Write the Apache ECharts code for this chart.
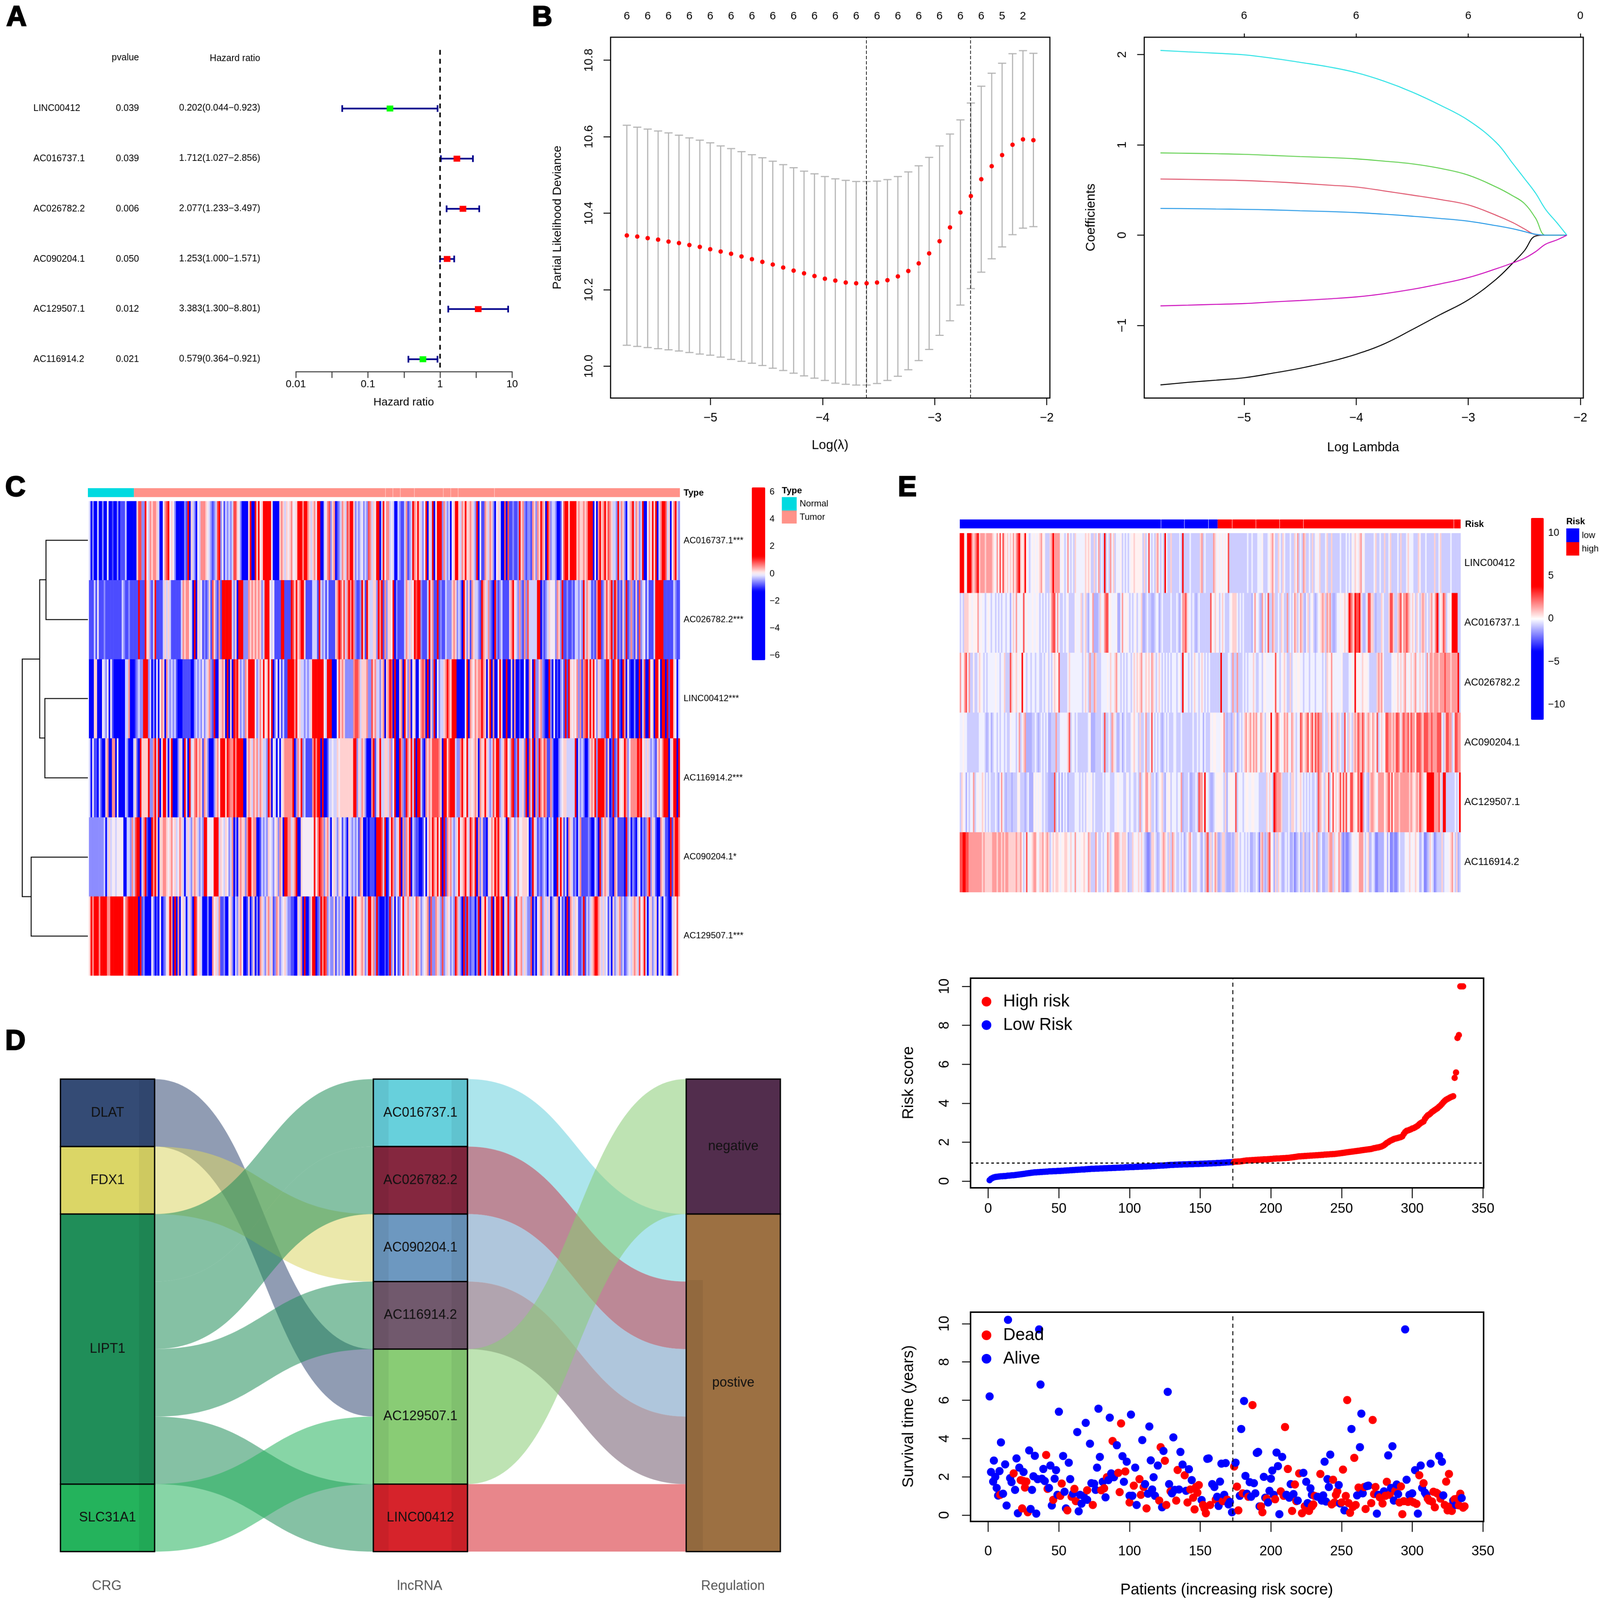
<!DOCTYPE html>
<html><head><meta charset="utf-8">
<style>html,body{margin:0;padding:0;background:#fff;overflow:hidden}#c{width:4316px;height:4297px;transform-origin:0 0}</style>
<script src="https://cdn.jsdelivr.net/npm/echarts@6/dist/echarts.min.js"></script>
</head><body><div id="c"></div>
<script>
// ---------- A: forest plot ----------
const forestGenes = ['LINC00412','AC016737.1','AC026782.2','AC090204.1','AC129507.1','AC116914.2'];
const forestP = ['0.039','0.039','0.006','0.050','0.012','0.021'];
const forestHR = [0.202,1.712,2.077,1.253,3.383,0.579];
const forestLow = [0.044,1.027,1.233,1.000,1.300,0.364];
const forestHigh = [0.923,2.856,3.497,1.571,8.801,0.921];
const forestText = ['0.202(0.044\u22120.923)','1.712(1.027\u22122.856)','2.077(1.233\u22123.497)','1.253(1.000\u22121.571)','3.383(1.300\u22128.801)','0.579(0.364\u22120.921)'];
// ---------- B: LASSO CV ----------
const cvLambda = [-5.746,-5.653,-5.560,-5.467,-5.374,-5.281,-5.188,-5.095,-5.002,-4.909,-4.816,-4.723,-4.630,-4.537,-4.444,-4.351,-4.258,-4.165,-4.072,-3.979,-3.886,-3.793,-3.700,-3.607,-3.514,-3.421,-3.328,-3.235,-3.142,-3.049,-2.956,-2.863,-2.770,-2.677,-2.584,-2.491,-2.398,-2.305,-2.212,-2.119];
const cvMean = [10.342,10.339,10.335,10.331,10.326,10.322,10.317,10.312,10.306,10.300,10.294,10.287,10.280,10.273,10.266,10.258,10.250,10.243,10.236,10.229,10.224,10.219,10.217,10.217,10.219,10.225,10.235,10.249,10.269,10.295,10.327,10.363,10.402,10.445,10.489,10.523,10.552,10.579,10.593,10.591];
const cvUpper = [10.630,10.625,10.620,10.615,10.610,10.604,10.597,10.591,10.584,10.576,10.569,10.561,10.553,10.545,10.536,10.527,10.519,10.510,10.503,10.496,10.490,10.486,10.483,10.483,10.484,10.488,10.496,10.508,10.524,10.546,10.576,10.607,10.644,10.688,10.732,10.766,10.792,10.817,10.825,10.818];
const cvLower = [10.055,10.052,10.049,10.046,10.043,10.040,10.036,10.032,10.029,10.024,10.018,10.013,10.008,10.002,9.995,9.989,9.982,9.975,9.969,9.963,9.956,9.953,9.951,9.951,9.955,9.963,9.974,9.991,10.015,10.044,10.081,10.119,10.160,10.203,10.246,10.281,10.312,10.344,10.361,10.365];
const cvCounts = [6,6,6,6,6,6,6,6,6,6,6,6,6,6,6,6,6,6,5,2];
const cvLines = [-3.609,-2.68];
const coefLambda = [-5.746,-5.5,-5.25,-5,-4.75,-4.5,-4.25,-4,-3.75,-3.5,-3.25,-3,-2.75,-2.6,-2.5,-2.4,-2.31,-2.21,-2.12];
const coef1 = [-1.658,-1.63,-1.606,-1.579,-1.53,-1.474,-1.405,-1.319,-1.204,-1.046,-.88,-.717,-.487,-.306,-.174,-.01,0,0,0];
const coef2 = [.622,.618,.612,.605,.592,.575,.555,.533,.49,.444,.395,.335,.22,.138,.07,.007,0,0,0];
const coef3 = [.911,.907,.902,.895,.883,.87,.86,.845,.82,.79,.74,.665,.533,.434,.352,.19,0,0,0];
const coef4 = [.296,.294,.29,.286,.28,.27,.262,.25,.232,.21,.185,.155,.105,.07,.04,.01,0,0,0];
const coef5 = [2.046,2.03,2.015,1.997,1.96,1.914,1.865,1.80,1.705,1.585,1.44,1.273,1.026,.79,.63,.467,.286,.14,0];
const coef6 = [-.783,-.775,-.766,-.757,-.74,-.724,-.706,-.684,-.648,-.60,-.54,-.47,-.372,-.306,-.257,-.184,-.10,-.053,0];
// ---------- C: heatmap (one letter per sample, decoded by heatCLevels) ----------
const heatCGenes = ['AC016737.1***','AC026782.2***','LINC00412***','AC116914.2***','AC090204.1*','AC129507.1***'];
const heatCLevels = {a:-3,b:-.875,c:-.56,d:-.23,e:0,f:.23,g:.56,h:.875,i:3};
const heatC = [
"dacaadaaca aeaabaacab bbdaaaaaaf hhcciedgfg gfdaaeghie fecaaaaacb iafdcaedgg gfedcbcdhi cebdcdcdhh fecaaaafia aifiefiiii ieaaaafgfd fefgeefiii giigfdfgei iaadeghcfg abcdgfdhgi ifcdcdecdc hgdfeiiadi eggdedaadc bbdgbcdigf ifdceiafdi aeiiicgdcd aefiifdgfi ffgfdciaeb bgfdgfcaef daahahbbcb bcifgcbccb gfcgfigfai gcddcaabeh iifiiiifgf fgfgiiiaea gifgifhgfd dcidgfcaef gidgfcdiaa egeifiadgi ihdfaegidc",
"bbbdbebbbc bbbbbbbbbb dcbbcbbbbb ibbbiffcbd ibbbbdfdfd bbbbbbdgfg gedaiafdeb cbcfbhfcbg biiiiiidcf aiiicccgfg fgfgfcdiii edebbbbiib bbbihfifgi ifbbbbdddb idcdbdbbbb fgihfhdgig igcbbcifbi fddffcigib gcffeiacbb bbdgfdfeih iicbbbdifg bbibcbbdcc cfgfcdcaif cfbgfddcbi gfdgcbaicb cdbbbbfgie dcgcbgchdd dddiiacbcd feeecgfcib bcbbcbddcd cidgfdbcbg iibcfhfgic igbcbfcibc gcbfbhcdeb dbbbdiiiii bbbbbbdcbb",
"aaaffaaaed ceaebaaaaa aaddgaaabc dcciiicdac aeaegfagdc dcdbaaabbb bbaacdcdce cdfgcbiaaf fgfaiafaih ifcdcgfiii iecdgeiefi eiaceaebdb biiiigiefd dcdcdfiiii iiiediiiaa aehfgfcccc cghhgdfffg cchfgddcfg afgihaiaaf gaifcgaefa aeghgaiafc iaecddfgig fiiiaaaaae iagfegfggi gfafiagaae ifaaiaafag aabaaeaage aiccfgcbaa icaeabacdb ibifefegcg bghidifiec fdccbiidbi hfibaigaeb aacaaiadha aiefaiieai iaibiifead",
"daebbadbaa fgaaggaeaa aadcaaadfb aifffficcg idiaeiidaf iaaacfdaid aideghfgfb gfcaaacfge iiifihggig iiiiaafgfd gfgdgfddci gaedaeaefg ggggiacgfi cdbbbbgigi iaiaabdded dfefffffff fiicfdgfca aagibdfidd ffdgceiaai gcbigfidia iidbagfgfh hhhgfaiifh iiidccgife idfefgfagf fifdcdhfii cdfhiedhib ciddfciahd iagcigfhgb bgcaaacdef fdddddiadc dcaacfgfic iiiigbfabi bcifefigce ggggihiefd fdcdcbfgeg iiiadfiiai",
"cccccccccd adfdeedeee eaaddcgdhi iadgibaaig ifaffggfef gefdegfdad fdcfgfdcdc iieeeeiiid fedfecdgac afgffcgiif ggaabdcdcf edcefcgfai iggdfgiaaf eeeeeeeieg ihgcfgdaef dcfebdcafd cdcdbgfaab abbbaiiihd iabeigcdfi agcgfiadcb baabeaegfi gfieiaibgf gdcdfiefgi fdigfiagcf bbafegfigi fdedaigfec dgeefffeab ifdbcbcdca dcdaaidifb dagfdbcadg bbbbcbaadc aicfgfdbba gfbbbbaicd acbadeacbc gicfdbaagf dbbaibgiig",
"figiiigiii iggiiiiiii ieghiiiiii aibcaaaaec abaeabcefi gaiagaefda dfcaihefda aacaagefdg bbcaaefcad cfgeaabfac facagfdcfg dfbcgfcdef dccbbaafdg aiaacfiiab cigihcdccf bdcfcfaaad agifefgfcd iifgcibaaa babicfaebc eidfgdfdeh gfcdefgbhc cgfdchcdfe cdcigdcaib icbccaciaf fiecciafii giafdicdeb iffgdfdcch acaefhcdfd facdfgaebc aiagfdfebb cibdcdfgii gfdfdebdaf cdfgcdbcde dfgfdhefid adfcdfaeca ecbaadfehe"
];
const typeNormal = 28, typeTumor = 332;
// ---------- E: heatmap (one letter per sample, decoded by heatELevels) ----------
const heatEGenes = ['LINC00412','AC016737.1','AC026782.2','AC090204.1','AC129507.1','AC116914.2'];
const heatELevels = {a:-1.78,b:-1.18,c:-.76,d:-.22,e:.22,f:.7,g:1.48,h:2.6,i:4};
const heatE = [
"iiiediiigf ghifgggfgg ggfedgeheh fefdfegegh ifefiedcde dedefgeecc cfgiggggde dcdgdcdcfd dddddfefec cfcdgcdcic dcgdfcddde cdcdcdeefe eeeecfcdhd cdcfgdcdci dccfcccccd ciccccdccc cccfgcdccc ccgfdedede dehccccccc cccccdccdc ccdddecccd efgeccfdcf dcccdccfdg cdcgfccdcf cdedfcccdf ccfcccccdc ccdcdcedfe dfgdeccccc cdfccdccfc cdfccccdcf cccdfdddcc cfecccdccc ccfccdfccc cccdcccccc",
"cdcfffeede eegdeddcde dcddcdcdcd dcddbdfdgd dedhdeddde ddedcdcdcd ceghhdgdcc dcdecccced ddfcdfcbdd gbbbcfddgh hdedddebbd gdeedcdcde cddfbbcdcc bbcddbcdcc cccdcccdcb dgghfddcdc bcdccccccc hedfdecdfd cccdefffdc dcdcccccbd gddcbgecdh ccgfccdcfe ccgcdcdgfc dgfcbdfcde cbcdefgfcg fgcbbcdded efdfihgfih hifcbcdhhf fcbcccfdcc cfhhfccfgh egghgfdfec fdcfgfcdcf gdfhicefhg cdeeiiiicc",
"gdeghdgcce ccdfedcdcd ddddeddcdd fccchfdefd ediedcddcd dcddccdcde cdcefeehcc cccdfddddd dddcdfdcgc cgfcccdddd edfddfgddc dcdcddcdfd fefgddfefd gfdcdfdcdc dcdcdddcde cidddcdcdf ddcdfdcdcd cccccccicc ccddcgccgc ccdcdcdddf dccddceedd dddehddcde fdccfcdede eddcdddcdd dcddddcdcf eegdddddde ccccddedie eedfeeedcc cccfgfgecc cccdedefdf dfgdedfdfg ddfdfdcgdg gfgggfgggh gggfggggic",
"ddeddccccc cccddddcbc dbcddcdcdd cdccedddcd gcdfgbbbbc cdcbcdcdcd bbcccgccdd dddfhcddcd cccccccdeb bbccccdchc cdcgfdcbcd bcdcccdefd dcfccdgccd hdcdcdcbcd cdcccddccc dcccccccdc cdcddbdccc edeedddeeg cbccbcfdbc dcdfgefgeg fgdegfdcee eiedghgede gfgddgfdcd dhgefghegh ehghggcdcc fdhfdfcfdc chdcfdcfgf hgfhgdfgfe gfdhcdfdeh hggfgfhhgd ghgghfhgge hhhgfhhhgg hggghhhdcf hhggcdhhgg",
"cfedbdcddg cdeddfecdc dcccdcbdgd cbcccbccce ecccbcdbbb edededcdcc bbbbhcdbdb dcdbccccdd dcdcdcedde cdcccccdcd ddcccddedd dccedcddcc dcgcdeggef ccdbcdefcb deecdddcdd gbcccdbbcc dchggdiddc bbcdeeeedc fbdeeedhcd ddcdeeddee dddcccccfd fdcihgggfc cccdcffdcd efdcdcdcdc cdchgfdcfe hcehefdfhe hfhdehhfee hgihcdcbfg gfedggggef ghfhegggfg gggggfgfef gfhgfdeiii iiggghfcii ccccccdcdi",
"hhiihhgggg gggggfgfff ffgggfggfg fggfffffgf fgecdhddef ggedffgefg fcdfeffede effedfddgd edeefedgfc ccgeccdcdd gfcdegggfd fffdbccfde dfdfdcbaab ffdcbcdfgf dcfcgfdccd cdbcdfgdcc cdecbdcghc fcdgfbbcff cbbbcbcffd cddcdcdbbc cdcafgcbcg hedbfcfdcb cdcdbbcabc dbcfbccbdf cdgbcdbbcc fggcfddgfb abaabcdedd egggdcefbc dcaabbbbde bdaabaabdc ccdedfdedf edbcdaabcf dcabcccfcd ddefgdcfbc"
];
const riskLowCount = 173, riskHighCount = 163;
// ---------- D: alluvial ----------
const alluvialNodes = ['DLAT','FDX1','LIPT1','SLC31A1','AC016737.1','AC026782.2','AC090204.1','AC116914.2','AC129507.1','LINC00412','negative','postive'];
const alluvialColors = ['#344B75','#DBD666','#208E59','#24B35C','#67D0DC','#85273F','#6D98C0','#71596D','#89CC75','#D6232B','#522D4D','#9C7042'];
const alluvialLinks = [['DLAT','AC129507.1',1],['FDX1','AC090204.1',1],['LIPT1','AC016737.1',1],['LIPT1','AC026782.2',1],['LIPT1','AC116914.2',1],['LIPT1','LINC00412',1],['SLC31A1','AC129507.1',1],
['AC016737.1','postive',1],['AC026782.2','postive',1],['AC090204.1','postive',1],['AC116914.2','postive',1],['AC129507.1','negative',2],['LINC00412','postive',1]];
// ---------- E: risk score ----------
const riskScore = [.05,.12,.16,.19,.21,.22,.23,.24,.25,.25,.26,.26,.27,.28,.28,.29,.3,.3,.31,.32,.33,.34,.35,.36,.37,.38,.39,.4,.41,.42,.43,.44,.45,.45,.46,.46,.47,.47,.48,.48,.49,.49,.5,.5,.5,.51,.51,.51,.52,.52,.52,.53,.53,.54,.54,.55,.55,.56,.56,.57,.57,.58,.58,.59,.59,.6,.6,.6,.61,.61,.62,.62,.63,.63,.63,.64,.64,.64,.65,.65,.65,.66,.66,.66,.67,.67,.67,.68,.68,.68,.69,.69,.69,.7,.7,.7,.71,.71,.71,.72,.72,.72,.72,.73,.73,.73,.74,.74,.74,.75,.75,.75,.76,.76,.76,.77,.77,.78,.78,.79,.79,.8,.8,.8,.81,.81,.82,.82,.83,.83,.83,.84,.84,.84,.85,.85,.85,.86,.86,.86,.86,.87,.87,.87,.87,.88,.88,.88,.88,.89,.89,.89,.9,.9,.9,.91,.91,.91,.92,.92,.92,.93,.93,.93,.94,.94,.95,.95,.96,.96,.97,.97,.98,
.99,1,1,1.01,1.01,1.02,1.03,1.04,1.05,1.06,1.06,1.07,1.07,1.08,1.08,1.09,1.09,1.1,1.1,1.11,1.11,1.12,1.12,1.12,1.13,1.13,1.14,1.14,1.15,1.15,1.16,1.16,1.16,1.17,1.17,1.18,1.18,1.19,1.19,1.2,1.21,1.22,1.23,1.24,1.25,1.26,1.27,1.27,1.28,1.28,1.29,1.29,1.3,1.3,1.31,1.31,1.32,1.32,1.33,1.33,1.34,1.34,1.35,1.35,1.36,1.36,1.37,1.37,1.38,1.38,1.39,1.39,1.4,1.41,1.42,1.43,1.44,1.45,1.46,1.47,1.48,1.49,1.5,1.51,1.52,1.53,1.54,1.55,1.56,1.57,1.58,1.59,1.6,1.61,1.62,1.63,1.64,1.65,1.67,1.69,1.7,1.72,1.73,1.75,1.77,1.8,1.84,1.9,1.96,2,2.05,2.09,2.12,2.16,2.18,2.2,2.22,2.24,2.26,2.3,2.42,2.52,2.58,2.6,2.63,2.66,2.7,2.72,2.76,2.8,2.85,2.92,2.98,3.02,3.06,3.2,3.3,3.38,3.42,3.48,3.55,3.6,3.65,3.7,3.75,3.82,3.88,3.96,4.05,4.12,4.18,4.22,4.26,4.3,4.33,4.36,5.3,5.58,7.35,7.5,10,10,10];
const riskCut = 0.943, patientCut = 173;
const alivePts = [[1,6.2],[2,2.25],[4,2.85],[3.5,1.75],[5,2],[6,1.42],[7,1.02],[8,2.3],[9,3.8],[10.5,1.12],[12,2.65],[13,.5],[14,10.2],[15.5,1.93],[16.5,1.72],[19,1.32],[20,2.96],[21,.1],[22,2.48],[25,2.25],[29,3.38],[30,.32],[31,1.32],[32,2.03],[33,3.1],[34,.08],[35,1.88],[36,9.7],[37,6.82],[38,1.9],[39,2.41],[40,1.78],[43,1.42],[44,2.59],[45,.5],[47,1.9],[48,2.35],[50,5.4],[49,1.06],[53,3.09],[54,1.22],[55,.35],[57,2.74],[58,1.88],[60,1.12],[63,4.34],[64,.2],[65,1.06],[66,.6],[67.5,1],[69,4.82],[70,.8],[72,3.73],[73,1.67],[75,1.64],[76,1.32],[77,2.48],[78,5.56],[79,3.04],[81,1.74],[83,.93],[85,1.83],[86,5.09],[87,2.18],[89,1.98],[91,3.65],[95,3.08],[96,1.74],[98,2.79],[100,1.01],[101,5.25],[102,1.01],[104,2.48],[105,.53],[109,3.92],[111,1.62],[113,1.12],[114,4.63],[115,2.86],[116,1.34],[117,1.98],[118,1.01],[120,2.59],[123,.41],[124,3.35],[127,6.44],[128,1.62],[130,1.14],[131,4.06],[132,1.32],[135,1.34],[136,3.3],[137.5,2.64],[140,1.27],[142,2.4],[144,1.83],[151,.79],[155,2.94],[156,2.96],[158.5,1.62],[160,1.47],[162,.96],[163,.48],[164,1.75],[165,2.69],[167,1.06],[168,2.72],[170,.56],[171,.69],[172.5,.15],[175,2.74],[178,1.01],[179,4.5],[181,5.96],[182,2.05],[183,1.12],[185,1.72],[186,.96],[188,1.67],[189,1.14],[190,3.25],[191,3.3],[192,.46],[195,2],[196,.91],[198,.66],[199,1.27],[200,1.9],[201,2.33],[202,1.06],[204,3.27],[205,2.56],[206,.05],[208,3.04],[211,1.06],[213,.91],[214,1.62],[216,1.1],[219,.76],[223,2.21],[225,1.74],[226,.63],[228,1.4],[229,1.06],[233,.96],[236,.76],[237,1.03],[238,2.79],[239,.71],[240,1.88],[241,1.47],[242,3.16],[248,1.57],[249,.61],[252,.25],[257,4.5],[261,1.03],[263,3.55],[264,5.3],[265,1.14],[268,1.52],[269,1.54],[275,.08],[276,1.06],[280,1.24],[283,3.12],[285,1.42],[286,3.6],[287,.76],[289,1.6],[290,1.1],[295,9.7],[296,1.85],[298,1.06],[300,1.14],[302,2.35],[304,.08],[306,2.59],[307,1.42],[309,1.17],[310,1.06],[313,2.69],[319,3.09],[321,2.79],[322,1.03],[329,.76],[331,.53],[335,.89]];
const deadPts = [[8.5,1.06],[18,2.18],[23,1.83],[24,.35],[25,1.78],[27,1.75],[26,1.44],[28,.15],[41,3.14],[42,1.37],[46,.8],[51,1.01],[52,1.65],[56,.25],[59,.96],[61,1.37],[62,.73],[70,1.3],[74,.53],[80,1.3],[82,1.4],[84,1.98],[88,3.87],[92,2.21],[93,1.2],[94,4.79],[97,2.28],[100,.66],[103,1.54],[107,1.88],[108,1.06],[110,1.47],[112,.35],[121,.76],[122,3.55],[125,2.84],[126,.53],[129,1.24],[133,.76],[134,2.36],[139,2.08],[141,.66],[143,1.34],[145,.91],[146,.3],[147,1.47],[148,1.17],[149,1.57],[152,.53],[153,.35],[154,.1],[157,.53],[161,.81],[166,.73],[169,.81],[174,2.54],[176,1.49],[177,.25],[180,1.14],[184,.96],[187,5.75],[193,.46],[194,.15],[197,.86],[203,.83],[207,1.24],[209,1.01],[210,4.6],[212,2.41],[215,.22],[217,1.6],[218,.73],[220,2.18],[222,.1],[224,.46],[227,.22],[229,.46],[230,.56],[231,1],[235,2.15],[243,.56],[244,1.85],[245,.66],[246,1.06],[247,1.24],[250,.66],[251,2.38],[253,1],[254,6.01],[255,.63],[256,.12],[258,.43],[259,2.99],[260,.53],[262,1.44],[266,1.47],[267,.32],[271,.63],[272,4.97],[273,1.1],[274,1.47],[277,.93],[279,.61],[281,1.01],[282,1.74],[284,1.06],[288,1.27],[291,.66],[292,1.5],[293,.05],[294,.73],[297,.69],[299,.73],[301,.66],[303,.59],[305,2.08],[308,1.67],[311,.86],[312,.76],[314,.71],[315,1.22],[316,.41],[317,1.17],[318,1.12],[320,.86],[323,.53],[324,1.75],[325,.25],[326,2.15],[327,.46],[328,.22],[330,.83],[332,.86],[333,.51],[334,1.12],[336,.39],[337,.46]];

// ---------- helpers ----------
const FONT = '"Liberation Sans",Arial,sans-serif';
const box = document.getElementById('c');
// the figure is laid out in reference pixels and fitted to whatever window it is opened in
box.style.transform = 'scale(' + (window.innerWidth/4316) + ',' + (window.innerHeight/4297) + ')';
const chart = echarts.init(box, null, {renderer:'canvas', width:4316, height:4297, devicePixelRatio:1});
const grids=[], xAxes=[], yAxes=[], series=[], graphics=[], visualMaps=[];
function T(x,y,text,size,o){o=o||{};
  const st={text:text,fontSize:size,fontFamily:FONT,fontWeight:o.bold?'bold':'normal',fill:o.color||'#000',
      textAlign:o.align||'left',textVerticalAlign:'middle',align:o.align||'left',verticalAlign:'middle'};
  if(o.heavy){st.stroke='#000';st.lineWidth=o.heavy;}
  graphics.push({type:'text',x:x,y:y,rotation:o.rot||0,silent:true,z:50,style:st});
}
function poly(points,w,c){graphics.push({type:'polyline',silent:true,z:50,shape:{points:points},style:{stroke:c||'#000',lineWidth:w||2.5,fill:null}});}
function rect(x,y,w,h,c){graphics.push({type:'rect',silent:true,z:50,shape:{x:x,y:y,width:w,height:h},style:{fill:c}});}
function dot(x,y,r,c){graphics.push({type:'circle',silent:true,z:50,shape:{cx:x,cy:y,r:r},style:{fill:c}});}
function G(l,t,w,h,b){grids.push({left:l,top:t,width:w,height:h,show:!!b,borderColor:'#000',borderWidth:b||0,backgroundColor:'transparent',containLabel:false});return grids.length-1;}
const minus=v=>String(v).replace('-','\u2212');
function valAxis(gi,min,max,vals,o){o=o||{};return {gridIndex:gi,type:'value',min:min,max:max,position:o.position,
  axisLine:{show:false,onZero:false},splitLine:{show:false},
  axisTick:{show:o.tick!==false,length:o.tickLen||19,customValues:vals,lineStyle:{color:'#000',width:o.tickW||2.5}},
  axisLabel:{show:o.label!==false,customValues:vals,fontSize:o.size||32,fontFamily:FONT,color:'#000',margin:o.margin||30,rotate:o.rot||0,formatter:o.fmt||minus,hideOverlap:false}};}
function hidden(gi,min,max,inv){return {gridIndex:gi,type:'value',min:min,max:max,inverse:!!inv,show:false,splitLine:{show:false},axisLine:{onZero:false}};}
function ramp(min,max,sat,n){const out=[];for(let i=0;i<=n;i++){const v=min+(max-min)*i/n;const t=Math.min(1,Math.abs(v)/sat);const k=Math.round(255*(1-t));
  out.push(v<0?`rgb(${k},${k},255)`:`rgb(255,${k},${k})`);}return out;}
function addHeat(rows,levels,genes,g,labelSize,range,sat,bar){
  const clean=rows.map(r=>r.replace(/\s+/g,''));const nc=Math.max.apply(null,clean.map(r=>r.length));
  const data=[];clean.forEach((r,ri)=>{for(let j=0;j<nc;j++){data.push([j,ri,levels[r[j]||'e']]);}});
  const gi=G(g[0],g[1],g[2],g[3]);
  xAxes.push({gridIndex:gi,type:'category',data:Array.from({length:nc},(_,i)=>i),show:false});
  yAxes.push({gridIndex:gi,type:'category',inverse:true,data:genes,position:'right',axisLine:{show:false},axisTick:{show:false},
    axisLabel:{fontSize:labelSize,fontFamily:FONT,color:'#000',margin:10,align:'left'}});
  const si=series.length;
  series.push({type:'heatmap',xAxisIndex:xAxes.length-1,yAxisIndex:yAxes.length-1,data:data,progressive:0,silent:true,itemStyle:{borderWidth:0}});
  visualMaps.push({type:'continuous',seriesIndex:si,dimension:2,min:-range,max:range,show:true,calculable:false,hoverLink:false,realtime:false,left:bar[0],top:bar[1],itemWidth:bar[2],itemHeight:bar[3],padding:0,text:null,inRange:{color:ramp(-range,range,sat,Math.round(range*10))}});
  return nc;
}
function addAnnot(g,total,parts){
  const gi=G(g[0],g[1],g[2],g[3]);
  xAxes.push({gridIndex:gi,type:'value',min:0,max:total,show:false,splitLine:{show:false}});
  yAxes.push({gridIndex:gi,type:'category',data:['a'],show:false});
  parts.forEach(p=>series.push({type:'bar',name:p[0],stack:'ann'+gi,xAxisIndex:xAxes.length-1,yAxisIndex:yAxes.length-1,barWidth:'100%',data:[p[1]],itemStyle:{color:p[2]},silent:true}));
}
function addBarAxis(l,t,w,h,range,vals,size){
  const gi=G(l,t,w,h);
  xAxes.push({gridIndex:gi,type:'value',min:0,max:1,show:false,splitLine:{show:false},axisLine:{onZero:false}});
  yAxes.push(valAxis(gi,-range,range,vals,{position:'right',tick:false,size:size,margin:12}));
}

// ---------- panel letters ----------
[['A',17,48],['B',1435,48],['C',14,1311],['D',14,2798],['E',2422,1311]].forEach(a=>T(a[1],a[2],a[0],76,{bold:true,heavy:3}));

// ---------- A ----------
(function(){
  const gi=G(798,134,583.5,864);
  xAxes.push({gridIndex:gi,type:'value',min:-2,max:1,interval:0.5,position:'bottom',
    axisLine:{show:true,onZero:false,lineStyle:{color:'#333',width:2.5}},splitLine:{show:false},
    axisTick:{length:17,lineStyle:{color:'#333',width:2.5}},
    axisLabel:{fontSize:28,fontFamily:FONT,color:'#000',margin:20,formatter:v=>({'-2':'0.01','-1':'0.1','0':'1','1':'10'})[v]||''}});
  yAxes.push(hidden(gi,-1.169,5.247,true));
  const xi=xAxes.length-1, yi=yAxes.length-1;
  series.push({type:'custom',xAxisIndex:xi,yAxisIndex:yi,clip:false,silent:true,encode:{x:[0,1,2],y:3},
    data:forestGenes.map((g,i)=>[Math.log10(forestLow[i]),Math.log10(forestHigh[i]),Math.log10(forestHR[i]),i]),
    renderItem:(p,api)=>{const a=api.coord([api.value(0),api.value(3)]),b=api.coord([api.value(1),api.value(3)]),m=api.coord([api.value(2),api.value(3)]);
      const st={stroke:'#00008B',lineWidth:4.5};
      return {type:'group',children:[
        {type:'line',shape:{x1:a[0],y1:a[1],x2:b[0],y2:b[1]},style:st},
        {type:'line',shape:{x1:a[0],y1:a[1]-9,x2:a[0],y2:a[1]+9},style:st},
        {type:'line',shape:{x1:b[0],y1:b[1]-9,x2:b[0],y2:b[1]+9},style:st},
        {type:'rect',shape:{x:m[0]-9,y:m[1]-8,width:18,height:16},style:{fill:api.value(2)<0?'#00FF00':'#FF0000'}}]};}});
  series.push({type:'scatter',xAxisIndex:xi,yAxisIndex:yi,data:[],markLine:{silent:true,symbol:'none',label:{show:false},lineStyle:{color:'#000',type:[13,11],width:4},data:[{xAxis:0}]}});
  T(375,155,'pvalue',25,{align:'right'});T(702,157,'Hazard ratio',25,{align:'right'});
  forestGenes.forEach((g,i)=>{const y=291.6+134.7*i;T(90,y,g,25);T(375,y,forestP[i],25,{align:'right'});T(702,y-1,forestText[i],25,{align:'right'});});
  T(1089,1081,'Hazard ratio',30,{align:'center'});
})();

// ---------- B left ----------
(function(){
  const gi=G(1647,100,1185,969,3);
  xAxes.push(valAxis(gi,-5.891,-1.972,[-5,-4,-3,-2],{size:33,margin:37,tickLen:19}));
  yAxes.push(valAxis(gi,9.917,10.860,[10.0,10.2,10.4,10.6,10.8],{size:32,rot:90,margin:42,tickLen:19,fmt:v=>v.toFixed(1)}));
  const xi=xAxes.length-1, yi=yAxes.length-1;
  series.push({type:'custom',xAxisIndex:xi,yAxisIndex:yi,silent:true,encode:{x:0,y:[1,2]},
    data:cvLambda.map((l,i)=>[l,cvLower[i],cvUpper[i]]),
    renderItem:(p,api)=>{const a=api.coord([api.value(0),api.value(1)]),b=api.coord([api.value(0),api.value(2)]);const st={stroke:'#B4B4B4',lineWidth:3};
      return {type:'group',children:[{type:'line',shape:{x1:a[0],y1:a[1],x2:b[0],y2:b[1]},style:st},
        {type:'line',shape:{x1:a[0]-11,y1:a[1],x2:a[0]+11,y2:a[1]},style:st},
        {type:'line',shape:{x1:b[0]-11,y1:b[1],x2:b[0]+11,y2:b[1]},style:st}]};}});
  series.push({type:'scatter',xAxisIndex:xi,yAxisIndex:yi,symbolSize:12,silent:true,itemStyle:{color:'#FF0000',opacity:1},data:cvLambda.map((l,i)=>[l,cvMean[i]]),z:5,
    markLine:{silent:true,symbol:'none',label:{show:false},lineStyle:{color:'#000',type:[9,5],width:1.8},data:cvLines.map(v=>({xAxis:v}))}});
  series.push({type:'custom',xAxisIndex:xi,yAxisIndex:yi,clip:false,silent:true,encode:{x:0},
    data:cvCounts.map((c,i)=>[cvLambda[i*2],c]),
    renderItem:(p,api)=>({type:'text',style:{text:String(api.value(1)),x:api.coord([api.value(0),10])[0],y:44,fontSize:30,fontFamily:FONT,fill:'#000',align:'center',verticalAlign:'middle'}})});
  T(2239,1196,'Log(\u03bb)',35,{align:'center'});
  T(1504,584,'Partial Likelihood Deviance',32,{align:'center',rot:Math.PI/2});
})();

// ---------- B right ----------
(function(){
  const gi=G(3086.5,100,1184.5,969,3);
  xAxes.push(valAxis(gi,-5.891,-1.973,[-5,-4,-3,-2],{size:33,margin:37}));
  const xi=xAxes.length-1;
  const topMap={'-5':'6','-4':'6','-3':'6','-2':'0'};
  xAxes.push(valAxis(gi,-5.891,-1.973,[-5,-4,-3,-2],{position:'top',size:30,margin:42,tickLen:10,fmt:v=>topMap[v]}));
  yAxes.push(valAxis(gi,-1.804,2.192,[-1,0,1,2],{size:33,rot:90,margin:42}));
  const yi=yAxes.length-1;
  [[coef1,'#000000','1'],[coef2,'#DF536B','2'],[coef3,'#61D04F','3'],[coef4,'#2297E6','4'],[coef5,'#28E2E5','5'],[coef6,'#CD0BBC','6']].forEach(s=>{
    series.push({type:'line',xAxisIndex:xi,yAxisIndex:yi,showSymbol:true,symbol:'none',silent:true,smooth:0.4,lineStyle:{color:s[1],width:2.6},
      data:coefLambda.map((l,i)=>i===0?{value:[l,s[0][i]],label:{show:true,position:'left',distance:18,formatter:s[2],fontSize:15,fontFamily:FONT,color:'#000'}}:[l,s[0][i]])});
  });
  T(3677,1202,'Log Lambda',35,{align:'center'});
  T(2943,584,'Coefficients',35,{align:'center',rot:Math.PI/2});
})();

// ---------- C ----------
addHeat(heatC,heatCLevels,heatCGenes,[240,1346,1594,1274],24,6.34,1.25,[2028,1309,36,464]);
addAnnot([237,1311,1597,24],360,[['Normal',typeNormal,'#00DAE0'],['Tumor',typeTumor,'#FF9289']]);
addBarAxis(2028,1309,36,464,6.34,[-6,-4,-2,0,2,4,6],24);
T(1844,1324,'Type',24,{bold:true});
T(2109,1318,'Type',24,{bold:true});
rect(2109,1335,40,36,'#00DAE0');rect(2109,1371,40,35,'#FF9289');
T(2157,1353,'Normal',24);T(2157,1389,'Tumor',24);
[1039,1059,1079,1117,1195,1215,1235,1333].forEach(x=>rect(x,1311,1.5,24,'rgba(255,255,255,.5)'));
[[[237,1451],[124,1451],[124,1664],[237,1664]],[[237,1876],[121,1876],[121,2089],[237,2089]],[[124,1557],[107,1557],[107,1982],[121,1982]],
 [[237,2302],[84,2302],[84,2514],[237,2514]],[[107,1770],[60,1770],[60,2408],[84,2408]]].forEach(p=>poly(p,2.5));

// ---------- E heatmap ----------
addHeat(heatE,heatELevels,heatEGenes,[2589,1432,1351,964],27,11.75,3.8,[4130,1391,34,542]);
addAnnot([2589,1395,1351,24],riskLowCount+riskHighCount,[['low',riskLowCount,'#0000FF'],['high',riskHighCount,'#FF0000']]);
addBarAxis(4130,1391,34,542,11.75,[-10,-5,0,5,10],27);
T(3952,1408,'Risk',24,{bold:true});
T(4225,1401,'Risk',24,{bold:true});
rect(4225,1419,35,37,'#0000FF');rect(4225,1456,35,36,'#FF0000');
T(4267,1438,'low',24);T(4267,1474,'high',24);
[3131,3194,3259,3323,3387,3451,3515,3921].forEach(x=>rect(x,1395,1.5,24,'rgba(255,255,255,.7)'));

// ---------- D ----------
series.push({type:'sankey',left:163,top:2898,width:1942,height:1269,nodeWidth:254,nodeGap:0,layoutIterations:0,nodeAlign:'justify',silent:true,draggable:false,
  data:alluvialNodes.map((n,i)=>({name:n,itemStyle:{color:alluvialColors[i],borderColor:'#000',borderWidth:3.5}})),
  links:alluvialLinks.map(l=>({source:l[0],target:l[1],value:l[2]})),
  label:{show:true,position:'inside',fontSize:36,fontFamily:FONT,color:'#111'},
  lineStyle:{color:'source',opacity:.55,curveness:.5},emphasis:{disabled:true}});
T(288,4260,'CRG',36,{align:'center',color:'#555'});T(1132,4260,'lncRNA',36,{align:'center',color:'#555'});T(1977,4260,'Regulation',36,{align:'center',color:'#555'});
// the flows show through the strata as slightly darker edge bands
[[375,2900,40,1265],[1008,2900,40,1265],[1218,2900,42,1265],[1854,3438,42,727]].forEach(b=>rect(b[0],b[1],b[2],b[3],'rgba(0,0,0,.06)'));

// ---------- E risk score ----------
const patientTicks=[0,50,100,150,200,250,300,350];
(function(){
  const gi=G(2618,2627,1384,563,4);
  xAxes.push(valAxis(gi,-12.5,350.5,patientTicks,{size:37,margin:38,tickLen:28}));
  yAxes.push(valAxis(gi,-0.344,10.42,[0,2,4,6,8,10],{size:38,rot:90,margin:50,tickLen:23}));
  const xi=xAxes.length-1, yi=yAxes.length-1;
  series.push({type:'scatter',name:'Low Risk',xAxisIndex:xi,yAxisIndex:yi,symbolSize:17,silent:true,itemStyle:{color:'#0000FF',opacity:1},data:riskScore.slice(0,patientCut).map((v,i)=>[i+1,v]),
    markLine:{silent:true,symbol:'none',label:{show:false},lineStyle:{color:'#000',type:[11,9],width:2.6},data:[{xAxis:patientCut}]}});
  series.push({type:'scatter',name:'High risk',xAxisIndex:xi,yAxisIndex:yi,symbolSize:17,silent:true,itemStyle:{color:'#FF0000',opacity:1},data:riskScore.slice(patientCut).map((v,i)=>[i+1+patientCut,v]),
    markLine:{silent:true,symbol:'none',label:{show:false},lineStyle:{color:'#000',type:[7,7],width:3},data:[{yAxis:riskCut}]}});
  dot(2661,2690,13,'#FF0000');dot(2661,2753,13,'#0000FF');
  T(2706,2690,'High risk',46);T(2706,2753,'Low Risk',46);
  T(2451,2908,'Risk score',42,{align:'center',rot:Math.PI/2});
})();

// ---------- E survival ----------
(function(){
  const gi=G(2618,3524,1384,562,4);
  xAxes.push(valAxis(gi,-12.5,350.5,patientTicks,{size:37,margin:62,tickLen:28}));
  yAxes.push(valAxis(gi,-0.33,10.6,[0,2,4,6,8,10],{size:38,rot:90,margin:50,tickLen:23}));
  const xi=xAxes.length-1, yi=yAxes.length-1;
  const pts=alivePts.map(p=>[p[0],p[1],0]).concat(deadPts.map(p=>[p[0],p[1],1])).sort((a,b)=>a[0]-b[0]);
  series.push({type:'scatter',xAxisIndex:xi,yAxisIndex:yi,symbolSize:22,silent:true,data:pts,itemStyle:{opacity:1,color:p=>p.value[2]?'#FF0000':'#0000FF'},
    markLine:{silent:true,symbol:'none',label:{show:false},lineStyle:{color:'#000',type:[11,9],width:2.6},data:[{xAxis:patientCut}]}});
  dot(2661,3586,13,'#FF0000');dot(2661,3649,13,'#0000FF');
  T(2706,3586,'Dead',46);T(2706,3649,'Alive',46);
  T(2451,3804,'Survival time (years)',42,{align:'center',rot:Math.PI/2});
  T(3309,4270,'Patients (increasing risk socre)',42,{align:'center'});
})();

chart.setOption({animation:false,backgroundColor:'#fff',grid:grids,xAxis:xAxes,yAxis:yAxes,visualMap:visualMaps,series:series,graphic:{elements:graphics},tooltip:{show:false}});
</script></body></html>
